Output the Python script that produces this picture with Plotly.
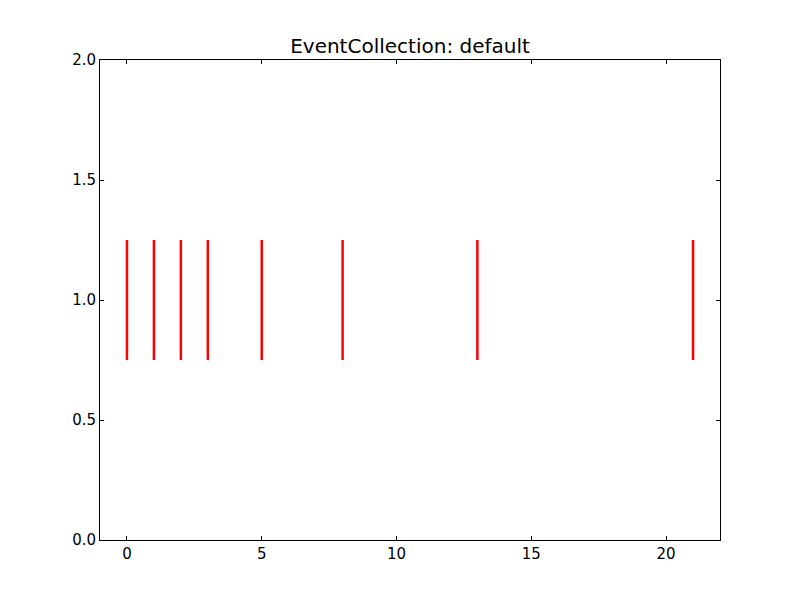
import plotly.graph_objects as go

# event data (matplotlib EventCollection style)
positions = [0, 1, 2, 3, 5, 8, 13, 21]
lineoffset = 1.0
linelength = 0.5

x_ticks = [0, 5, 10, 15, 20]
y_ticks = [0.0, 0.5, 1.0, 1.5, 2.0]

xs, ys = [], []
for p in positions:
    xs += [p, p, None]
    ys += [lineoffset - linelength / 2, lineoffset + linelength / 2, None]

fig = go.Figure()
fig.add_trace(go.Scatter(
    x=xs, y=ys, mode="lines",
    line=dict(color="#ff0000", width=2.5),
    showlegend=False, hoverinfo="skip",
))

axis_style = dict(
    showline=True, linecolor="black", linewidth=1, mirror="ticks",
    ticks="inside", ticklen=4, tickcolor="black", tickwidth=1,
    showgrid=False, zeroline=False,
    tickfont=dict(family="DejaVu Sans", size=15, color="black"),
)

fig.update_xaxes(range=[-1, 22], tickvals=x_ticks, **axis_style)
fig.update_yaxes(range=[0, 2], tickvals=y_ticks, tickformat=".1f", **axis_style)

# page body has an 8px margin, so shift margins to line up with the reference
fig.update_layout(
    width=800, height=600,
    margin=dict(l=92, r=88, t=52, b=68),
    paper_bgcolor="white", plot_bgcolor="white",
    title=dict(text="EventCollection: default", x=(92 + 310) / 800, xanchor="center",
               y=1 - 38 / 600, yanchor="middle",
               font=dict(family="DejaVu Sans", size=20, color="black")),
)

fig.write_html("out.html")
